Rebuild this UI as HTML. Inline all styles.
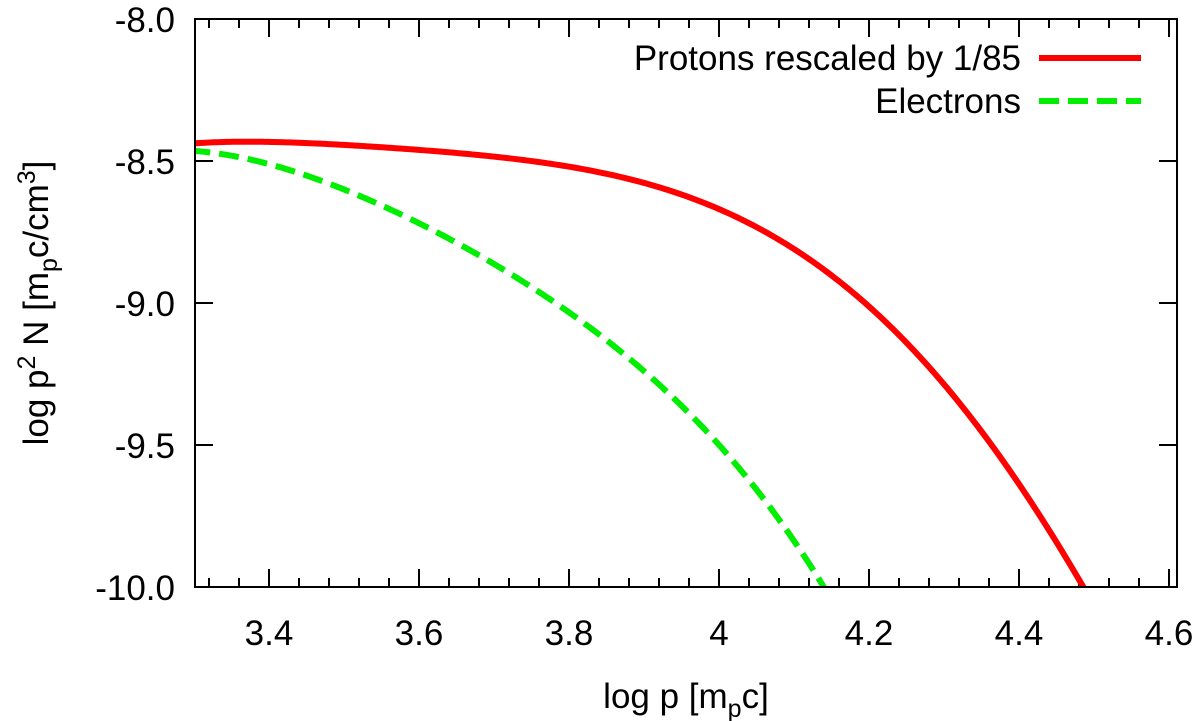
<!DOCTYPE html>
<html><head><meta charset="utf-8"><style>
html,body{margin:0;padding:0;background:#fff;}
svg{display:block;font-family:"Liberation Sans",sans-serif;}
</style></head><body>
<svg id="chart" width="1200" height="721" viewBox="0 0 1200 721">
<defs><clipPath id="plotclip"><rect x="195" y="19" width="982" height="568"/></clipPath></defs>
<g id="ticks"></g>
<g id="series" clip-path="url(#plotclip)"></g>
<rect x="195" y="19" width="982" height="568" fill="none" stroke="#000" stroke-width="2"/>
<text x="686" y="708" font-size="35" text-anchor="middle">log p [m<tspan font-size="25" dy="9">p</tspan><tspan dy="-9">c]</tspan></text>
<text transform="translate(48,303) rotate(-90)" font-size="35" text-anchor="middle">log p<tspan font-size="25" dy="-13">2</tspan><tspan dy="13"> N [m</tspan><tspan font-size="25" dy="9">p</tspan><tspan dy="-9">c/cm</tspan><tspan font-size="25" dy="-13">3</tspan><tspan dy="13">]</tspan></text>
<g>
<text x="1021" y="70" font-size="35" text-anchor="end">Protons rescaled by 1/85</text>
<line x1="1039" y1="58" x2="1141" y2="58" stroke="#ff0000" stroke-width="6"/>
<text x="1021" y="113" font-size="35" text-anchor="end">Electrons</text>
<line x1="1039" y1="101" x2="1141" y2="101" stroke="#00ee00" stroke-width="6" stroke-dasharray="20,9"/>
</g>
</svg>
<script>
const xTicks = [3.4, 3.6, 3.8, 4.0, 4.2, 4.4, 4.6];
const xTickLabels = ["3.4", "3.6", "3.8", "4", "4.2", "4.4", "4.6"];
const yTicks = [-8.0, -8.5, -9.0, -9.5, -10.0];
const yTickLabels = ["-8.0", "-8.5", "-9.0", "-9.5", "-10.0"];
const protonX = [3.295, 3.4, 3.5, 3.575, 3.708, 3.841, 3.975, 4.041, 4.108, 4.175, 4.241, 4.286, 4.326, 4.37, 4.415, 4.459, 4.486];
const protonY = [-8.437, -8.438, -8.443, -8.452, -8.484, -8.545, -8.644, -8.72, -8.825, -8.954, -9.107, -9.248, -9.365, -9.529, -9.705, -9.876, -10.0];
const electronX = [3.295, 3.448, 3.599, 3.7, 3.799, 3.907, 3.975, 4.064, 4.139];
const electronY = [-8.462, -8.556, -8.709, -8.861, -9.037, -9.261, -9.425, -9.70, -10.0];

const NS = "http://www.w3.org/2000/svg";
function sx(v){ return 269 + (v - 3.4) * 750; }
function sy(v){ return 19 + (-8.0 - v) * 284; }
const tg = document.getElementById('ticks');
function line(x1,y1,x2,y2){
  const l = document.createElementNS(NS,'line');
  l.setAttribute('x1',x1);l.setAttribute('y1',y1);l.setAttribute('x2',x2);l.setAttribute('y2',y2);
  l.setAttribute('stroke','#000');l.setAttribute('stroke-width','2');
  
  
  tg.appendChild(l);
}
for (let i = -2; i <= 30; i++) {
  const v = 3.4 + i * 0.04;
  const x = sx(v);
  if (x < 196 || x > 1176) continue;
  const major = i % 5 === 0;
  const len = major ? 18 : 9;
  line(x, 587, x, 587 - len);
  line(x, 19, x, 19 + len);
}
xTicks.forEach((v, i) => {
  const t = document.createElementNS(NS,'text');
  t.setAttribute('x', sx(v)); t.setAttribute('y', 645);
  t.setAttribute('font-size', '35'); t.setAttribute('text-anchor', 'middle');
  t.textContent = xTickLabels[i];
  
  
  tg.appendChild(t);
});
yTicks.forEach((v, i) => {
  const y = sy(v);
  line(195, y, 213, y);
  line(1177, y, 1159, y);
  const t = document.createElementNS(NS,'text');
  t.setAttribute('x', 175); t.setAttribute('y', y + 13);
  t.setAttribute('font-size', '35'); t.setAttribute('text-anchor', 'end');
  t.textContent = yTickLabels[i];
  
  
  tg.appendChild(t);
});
// least-squares polynomial smoothing through the read points
function polyFit(xs, ys, deg){
  const x0 = xs[0], x1 = xs[xs.length-1], m = (x0+x1)/2, h = (x1-x0)/2;
  const n = deg + 1, A = [], b = [];
  for (let i = 0; i < n; i++) { A.push(new Array(n).fill(0)); b.push(0); }
  xs.forEach((xv, k) => {
    const t = (xv - m) / h, pw = [];
    for (let i = 0; i < n; i++) pw.push(Math.pow(t, i));
    for (let i = 0; i < n; i++) { b[i] += pw[i] * ys[k]; for (let j = 0; j < n; j++) A[i][j] += pw[i] * pw[j]; }
  });
  for (let i = 0; i < n; i++) {
    let p = i; for (let r = i+1; r < n; r++) if (Math.abs(A[r][i]) > Math.abs(A[p][i])) p = r;
    [A[i], A[p]] = [A[p], A[i]]; [b[i], b[p]] = [b[p], b[i]];
    for (let r = i+1; r < n; r++) { const f = A[r][i] / A[i][i]; for (let c = i; c < n; c++) A[r][c] -= f * A[i][c]; b[r] -= f * b[i]; }
  }
  const c = new Array(n).fill(0);
  for (let i = n-1; i >= 0; i--) { let s = b[i]; for (let j = i+1; j < n; j++) s -= A[i][j] * c[j]; c[i] = s / A[i][i]; }
  return v => { const t = (v - m) / h; let s = 0; for (let i = n-1; i >= 0; i--) s = s * t + c[i]; return s; };
}
function fitPath(xs, ys, deg){
  const f = polyFit(xs, ys, deg);
  const a = xs[0], z = xs[xs.length-1] + 0.01;
  let d = '';
  for (let k = 0; k <= 300; k++) {
    const v = a + (z - a) * k / 300;
    d += (k ? ' L' : 'M') + sx(v).toFixed(2) + ',' + sy(f(v)).toFixed(2);
  }
  return d;
}
const sg = document.getElementById('series');
const pr = document.createElementNS(NS,'path');
pr.setAttribute('d', fitPath(protonX, protonY, 5));
pr.setAttribute('fill','none'); pr.setAttribute('stroke','#ff0000'); pr.setAttribute('stroke-width','6');


sg.appendChild(pr);
const el = document.createElementNS(NS,'path');
el.setAttribute('d', fitPath(electronX, electronY, 4));
el.setAttribute('fill','none'); el.setAttribute('stroke','#00ee00'); el.setAttribute('stroke-width','6');
el.setAttribute('stroke-dasharray','20,9');


sg.appendChild(el);
</script>
</body></html>
